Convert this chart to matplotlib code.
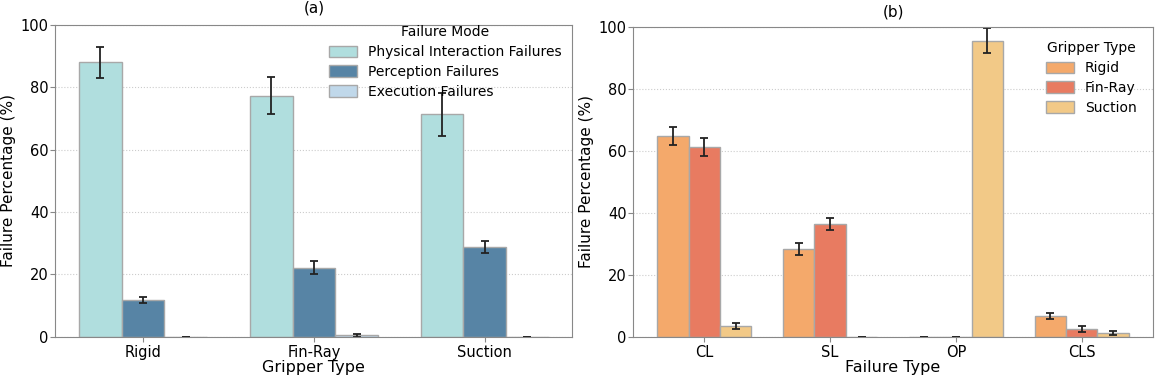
import numpy as np
import matplotlib.pyplot as plt

# (a) failure mode by gripper
grippers = ["Rigid", "Fin-Ray", "Suction"]
modes = ["Physical Interaction Failures", "Perception Failures", "Execution Failures"]
mode_vals = [[88.0, 77.3, 71.3],
             [11.8, 22.2, 28.8],
             [0.0, 0.5, 0.0]]
mode_err = [[5.0, 6.0, 6.8],
            [1.0, 2.0, 2.0],
            [0.0, 0.4, 0.0]]
mode_colors = ["#b0dede", "#5784a5", "#c0d8ea"]

# (b) failure type by gripper
ftypes = ["CL", "SL", "OP", "CLS"]
type_vals = [[64.8, 28.3, 0.0, 6.7],
             [61.2, 36.3, 0.0, 2.5],
             [3.5, 0.0, 95.5, 1.2]]
type_err = [[3.0, 2.0, 0.0, 1.0],
            [3.0, 2.0, 0.0, 1.0],
            [1.0, 0.0, 4.0, 0.6]]
grip_colors = ["#f4a96b", "#e87b61", "#f2c987"]

fig = plt.figure(figsize=(11.56, 3.76), dpi=100)
ax1 = fig.add_axes([0.048, 0.104, 0.447, 0.83])
ax2 = fig.add_axes([0.548, 0.104, 0.449, 0.825])


def draw(ax, cats, vals, errs, labels, colors, xlabel, title, legend_title, anchor, tpad):
    x = np.arange(len(cats))
    w = 0.25
    for i, (v, e) in enumerate(zip(vals, errs)):
        ax.bar(x + (i - 1) * w, v, w, yerr=e, color=colors[i], label=labels[i],
               edgecolor="#a8a8a8", linewidth=1.0, capsize=3,
               error_kw=dict(ecolor="#222222", elinewidth=1.3, capthick=1.3))
    ax.set_xticks(x)
    ax.set_xticklabels(cats, fontsize=10.5)
    ax.set_ylim(0, 100)
    ax.set_yticks(range(0, 101, 20))
    ax.tick_params(axis="y", labelsize=10.5, pad=1.5)
    ax.tick_params(axis="x", pad=2)
    ax.set_xlabel(xlabel, fontsize=11.5, labelpad=0)
    ax.set_ylabel("Failure Percentage (%)", fontsize=11, labelpad=3)
    ax.set_title(title, fontsize=11, pad=tpad)
    ax.grid(axis="y", linestyle=":", color="#cccccc", linewidth=0.8)
    ax.set_axisbelow(True)
    for s in ax.spines.values():
        s.set_color("#888888")
    ax.tick_params(color="#888888")
    ax.legend(title=legend_title, loc="upper right", bbox_to_anchor=anchor,
              frameon=False, fontsize=10, title_fontsize=10,
              labelspacing=0.42, handleheight=0.9, borderaxespad=0.2)


draw(ax1, grippers, mode_vals, mode_err, modes, mode_colors,
     "Gripper Type", "(a)", "Failure Mode", (0.995, 1.025), 9)
draw(ax2, ftypes, type_vals, type_err, grippers, grip_colors,
     "Failure Type", "(b)", "Gripper Type", (0.985, 0.98), 7)

fig.savefig("out.png", dpi=100)
